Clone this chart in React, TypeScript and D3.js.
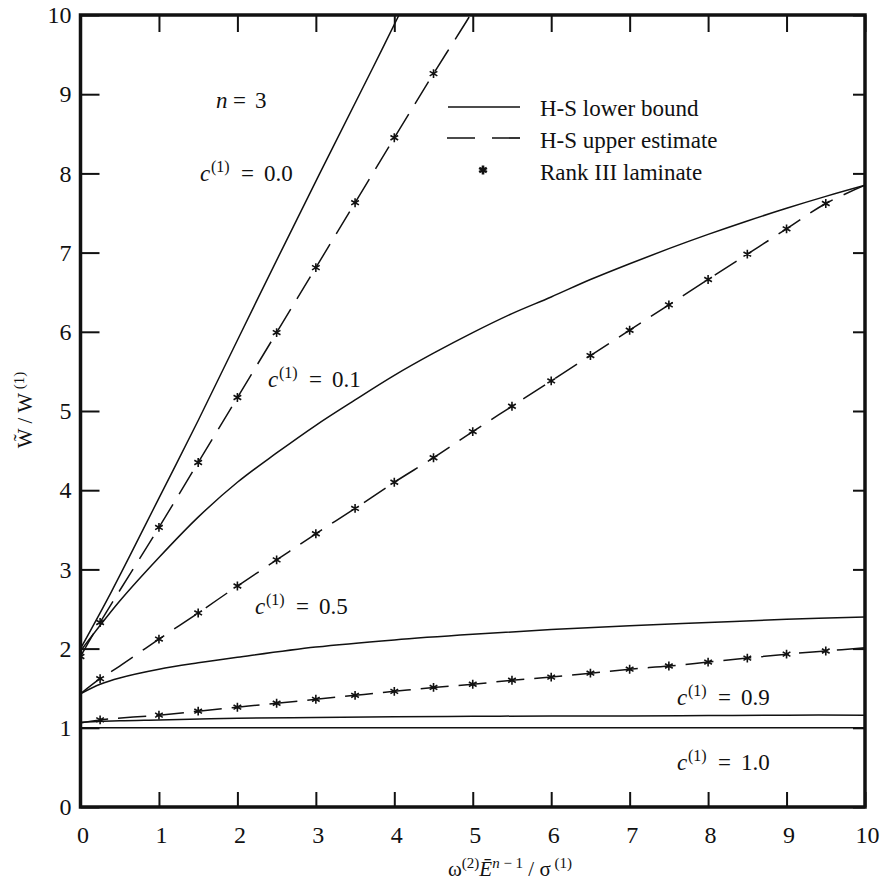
import { useEffect, useRef } from "react";
import * as d3 from "d3";

const WIDTH = 884;
const HEIGHT = 895;
const PLOT = { left: 80.5, right: 865, top: 15, bottom: 807 };
const FONT = "'Liberation Serif', 'Times New Roman', serif";

const xTicks = [0, 1, 2, 3, 4, 5, 6, 7, 8, 9, 10];
const yTicks = [0, 1, 2, 3, 4, 5, 6, 7, 8, 9, 10];

// c(1) = 0.0
const c00LowerX = [0, 0.4, 1, 1.5, 2.25, 3.05, 3.73, 4.06];
const c00LowerY = [2.0, 2.73, 3.9, 4.88, 6.4, 8.0, 9.34, 10.0];
const c00UpperX = [0, 0.25, 1, 1.5, 2, 2.5, 3, 3.5, 4, 4.5, 5, 5.2];
const c00UpperY = [1.9, 2.33, 3.53, 4.35, 5.17, 5.99, 6.81, 7.63, 8.45, 9.26, 10.05, 10.4];
const c00StarX = [0, 0.25, 1, 1.5, 2, 2.5, 3, 3.5, 4, 4.5];
const c00StarY = [1.9, 2.33, 3.53, 4.35, 5.17, 5.99, 6.81, 7.63, 8.45, 9.26];

// c(1) = 0.1
const c01LowerX = [0, 0.5, 1, 1.5, 2, 2.5, 3, 3.5, 4, 4.5, 5, 5.5, 6, 6.5, 7, 7.5, 8, 8.5, 9, 9.5, 10];
const c01LowerY = [1.97, 2.6, 3.15, 3.66, 4.1, 4.47, 4.82, 5.14, 5.45, 5.73, 5.99, 6.23, 6.44, 6.66, 6.86, 7.05, 7.23, 7.4, 7.56, 7.71, 7.85];
const c01UpperX = [0, 0.25, 0.5, 1, 1.5, 2, 2.5, 3, 3.5, 4, 4.5, 5, 5.5, 6, 6.5, 7, 7.5, 8, 8.5, 9, 9.5, 10];
const c01UpperY = [1.43, 1.62, 1.78, 2.12, 2.45, 2.79, 3.12, 3.45, 3.77, 4.1, 4.41, 4.74, 5.06, 5.38, 5.7, 6.02, 6.34, 6.66, 6.98, 7.3, 7.62, 7.85];
const c01StarX = [0.25, 1, 1.5, 2, 2.5, 3, 3.5, 4, 4.5, 5, 5.5, 6, 6.5, 7, 7.5, 8, 8.5, 9, 9.5];
const c01StarY = [1.62, 2.12, 2.45, 2.79, 3.12, 3.45, 3.77, 4.1, 4.41, 4.74, 5.06, 5.38, 5.7, 6.02, 6.34, 6.66, 6.98, 7.3, 7.62];

// c(1) = 0.5
const c05LowerX = [0, 0.25, 0.5, 1, 1.5, 2, 3, 4, 5, 6, 7, 8, 9, 10];
const c05LowerY = [1.43, 1.55, 1.63, 1.74, 1.82, 1.89, 2.02, 2.11, 2.18, 2.24, 2.29, 2.33, 2.37, 2.4];
const c05UpperX = [0, 0.25, 1, 1.5, 2, 2.5, 3, 3.5, 4, 4.5, 5, 5.5, 6, 6.5, 7, 7.5, 8, 8.5, 9, 9.5, 10];
const c05UpperY = [1.06, 1.1, 1.16, 1.21, 1.26, 1.31, 1.36, 1.41, 1.46, 1.51, 1.55, 1.6, 1.64, 1.69, 1.74, 1.78, 1.83, 1.88, 1.93, 1.97, 2.01];
const c05StarX = [0.25, 1, 1.5, 2, 2.5, 3, 3.5, 4, 4.5, 5, 5.5, 6, 6.5, 7, 7.5, 8, 8.5, 9, 9.5];
const c05StarY = [1.1, 1.16, 1.21, 1.26, 1.31, 1.36, 1.41, 1.46, 1.51, 1.55, 1.6, 1.64, 1.69, 1.74, 1.78, 1.83, 1.88, 1.93, 1.97];

// c(1) = 0.9 and 1.0
const c09LowerX = [0, 0.5, 1, 2, 3, 4, 5, 6, 7, 8, 9, 10];
const c09LowerY = [1.07, 1.09, 1.1, 1.12, 1.13, 1.14, 1.145, 1.15, 1.15, 1.155, 1.16, 1.16];
const c10LowerX = [0, 10];
const c10LowerY = [1, 1];

const legendLabels = ["H-S lower bound", "H-S upper estimate", "Rank III laminate"];

const zip = (xs: number[], ys: number[]) => xs.map((x, i) => [x, ys[i]] as [number, number]);

const curves = [
  { pts: zip(c00LowerX, c00LowerY), dash: null },
  { pts: zip(c00UpperX, c00UpperY), dash: "26 12" },
  { pts: zip(c01LowerX, c01LowerY), dash: null },
  { pts: zip(c01UpperX, c01UpperY), dash: "26 12" },
  { pts: zip(c05LowerX, c05LowerY), dash: null },
  { pts: zip(c05UpperX, c05UpperY), dash: "28 10" },
  { pts: zip(c09LowerX, c09LowerY), dash: null },
  { pts: zip(c10LowerX, c10LowerY), dash: null },
];

const stars = [
  ...zip(c00StarX, c00StarY),
  ...zip(c01StarX, c01StarY),
  ...zip(c05StarX, c05StarY),
];

const CLabel = ({ x, y, value }: { x: number; y: number; value: string }) => (
  <text y={y} fontSize={23} fontFamily={FONT} fill="#111">
    <tspan x={x} fontStyle="italic">c</tspan>
    <tspan x={x + 11} dy={-9} fontSize={16}>(1)</tspan>
    <tspan x={x + 41} dy={9}>=</tspan>
    <tspan x={x + 64}>{value}</tspan>
  </text>
);

export default function App() {
  const gx = useRef<SVGGElement>(null);
  const gy = useRef<SVGGElement>(null);
  const gt = useRef<SVGGElement>(null);
  const gr = useRef<SVGGElement>(null);

  const x = d3.scaleLinear().domain([0, 10]).range([PLOT.left, PLOT.right]);
  const y = d3.scaleLinear().domain([0, 10]).range([PLOT.bottom, PLOT.top]);

  const line = d3
    .line<[number, number]>()
    .x((d) => x(d[0]))
    .y((d) => y(d[1]))
    .curve(d3.curveCatmullRom.alpha(0.5));

  const star = d3.symbol().type(d3.symbolAsterisk).size(55)();

  useEffect(() => {
    const style = (g: d3.Selection<SVGGElement, unknown, null, undefined>) => {
      g.select(".domain").remove();
      g.selectAll(".tick line").attr("stroke", "#111").attr("stroke-width", 2);
      g.selectAll(".tick text")
        .attr("fill", "#111")
        .attr("font-size", 24)
        .attr("font-family", FONT);
    };
    d3.select(gx.current!)
      .call(d3.axisBottom(x).tickValues(xTicks).tickSize(-15).tickPadding(19).tickFormat(d3.format("d")))
      .call(style)
      .call((g) => g.selectAll(".tick text").attr("dx", 2));
    d3.select(gy.current!)
      .call(d3.axisLeft(y).tickValues(yTicks).tickSize(-19).tickPadding(9).tickFormat(d3.format("d")))
      .call(style);
    d3.select(gt.current!)
      .call(d3.axisTop(x).tickValues(xTicks).tickSize(-17).tickFormat(() => ""))
      .call(style);
    d3.select(gr.current!)
      .call(d3.axisRight(y).tickValues(yTicks).tickSize(-12).tickFormat(() => ""))
      .call(style);
  }, []);

  return (
    <svg
      width={WIDTH}
      height={HEIGHT}
      style={{ position: "absolute", left: 0, top: 0, background: "#fff" }}
    >
      <defs>
        <clipPath id="plot-clip">
          <rect x={PLOT.left} y={PLOT.top} width={PLOT.right - PLOT.left} height={PLOT.bottom - PLOT.top} />
        </clipPath>
      </defs>

      {/* curves */}
      <g clipPath="url(#plot-clip)">
        {curves.map((c, i) => (
          <path
            key={i}
            d={line(c.pts) ?? ""}
            fill="none"
            stroke="#111"
            strokeWidth={1.5}
            strokeDasharray={c.dash ?? undefined}
          />
        ))}
        {stars.map((d, i) => (
          <path
            key={i}
            d={star ?? ""}
            transform={`translate(${x(d[0])},${y(d[1])})`}
            fill="none"
            stroke="#111"
            strokeWidth={1.6}
          />
        ))}
      </g>

      {/* axes */}
      <g ref={gx} transform={`translate(0,${PLOT.bottom})`} />
      <g ref={gy} transform={`translate(${PLOT.left},0)`} />
      <g ref={gt} transform={`translate(0,${PLOT.top})`} />
      <g ref={gr} transform={`translate(${PLOT.right},0)`} />
      <rect
        x={PLOT.left}
        y={PLOT.top}
        width={PLOT.right - PLOT.left}
        height={PLOT.bottom - PLOT.top}
        fill="none"
        stroke="#111"
        strokeWidth={3.5}
      />

      {/* legend */}
      <line x1={448} x2={520} y1={107} y2={107} stroke="#111" strokeWidth={1.7} />
      <line x1={447} x2={520} y1={138} y2={138} stroke="#111" strokeWidth={1.7} strokeDasharray="28 17" />
      <path d={star ?? ""} transform="translate(483,170)" fill="#111" stroke="#111" strokeWidth={2.6} />
      {legendLabels.map((t, i) => (
        <text key={t} x={540} y={[116, 148, 180][i]} fontSize={23} fontFamily={FONT} fill="#111">
          {t}
        </text>
      ))}

      {/* annotations */}
      <text y={108} fontSize={23} fontFamily={FONT} fill="#111">
        <tspan x={216} fontStyle="italic">n</tspan>
        <tspan x={233}>=</tspan>
        <tspan x={255}>3</tspan>
      </text>
      <CLabel x={200} y={181} value="0.0" />
      <CLabel x={268} y={387} value="0.1" />
      <CLabel x={255} y={614} value="0.5" />
      <CLabel x={677} y={705} value="0.9" />
      <CLabel x={677} y={770} value="1.0" />

      {/* axis titles */}
      <text
        transform="translate(32,410) rotate(-90)"
        textAnchor="middle"
        fontSize={21}
        fontFamily={FONT}
        fill="#111"
      >
        <tspan>{"W\u0303 / W"}</tspan>
        <tspan dy={-8} fontSize={15}>{" (1)"}</tspan>
      </text>
      <text x={510} y={876} textAnchor="middle" fontSize={21} fontFamily={FONT} fill="#111">
        <tspan>ω</tspan>
        <tspan dy={-8} fontSize={15}>(2)</tspan>
        <tspan dy={8} fontStyle="italic">{"E\u0304"}</tspan>
        <tspan dy={-8} fontSize={15} fontStyle="italic">n</tspan>
        <tspan fontSize={15}>{" − 1"}</tspan>
        <tspan dy={8}>{" / σ"}</tspan>
        <tspan dy={-8} fontSize={15}>{" (1)"}</tspan>
      </text>
    </svg>
  );
}
